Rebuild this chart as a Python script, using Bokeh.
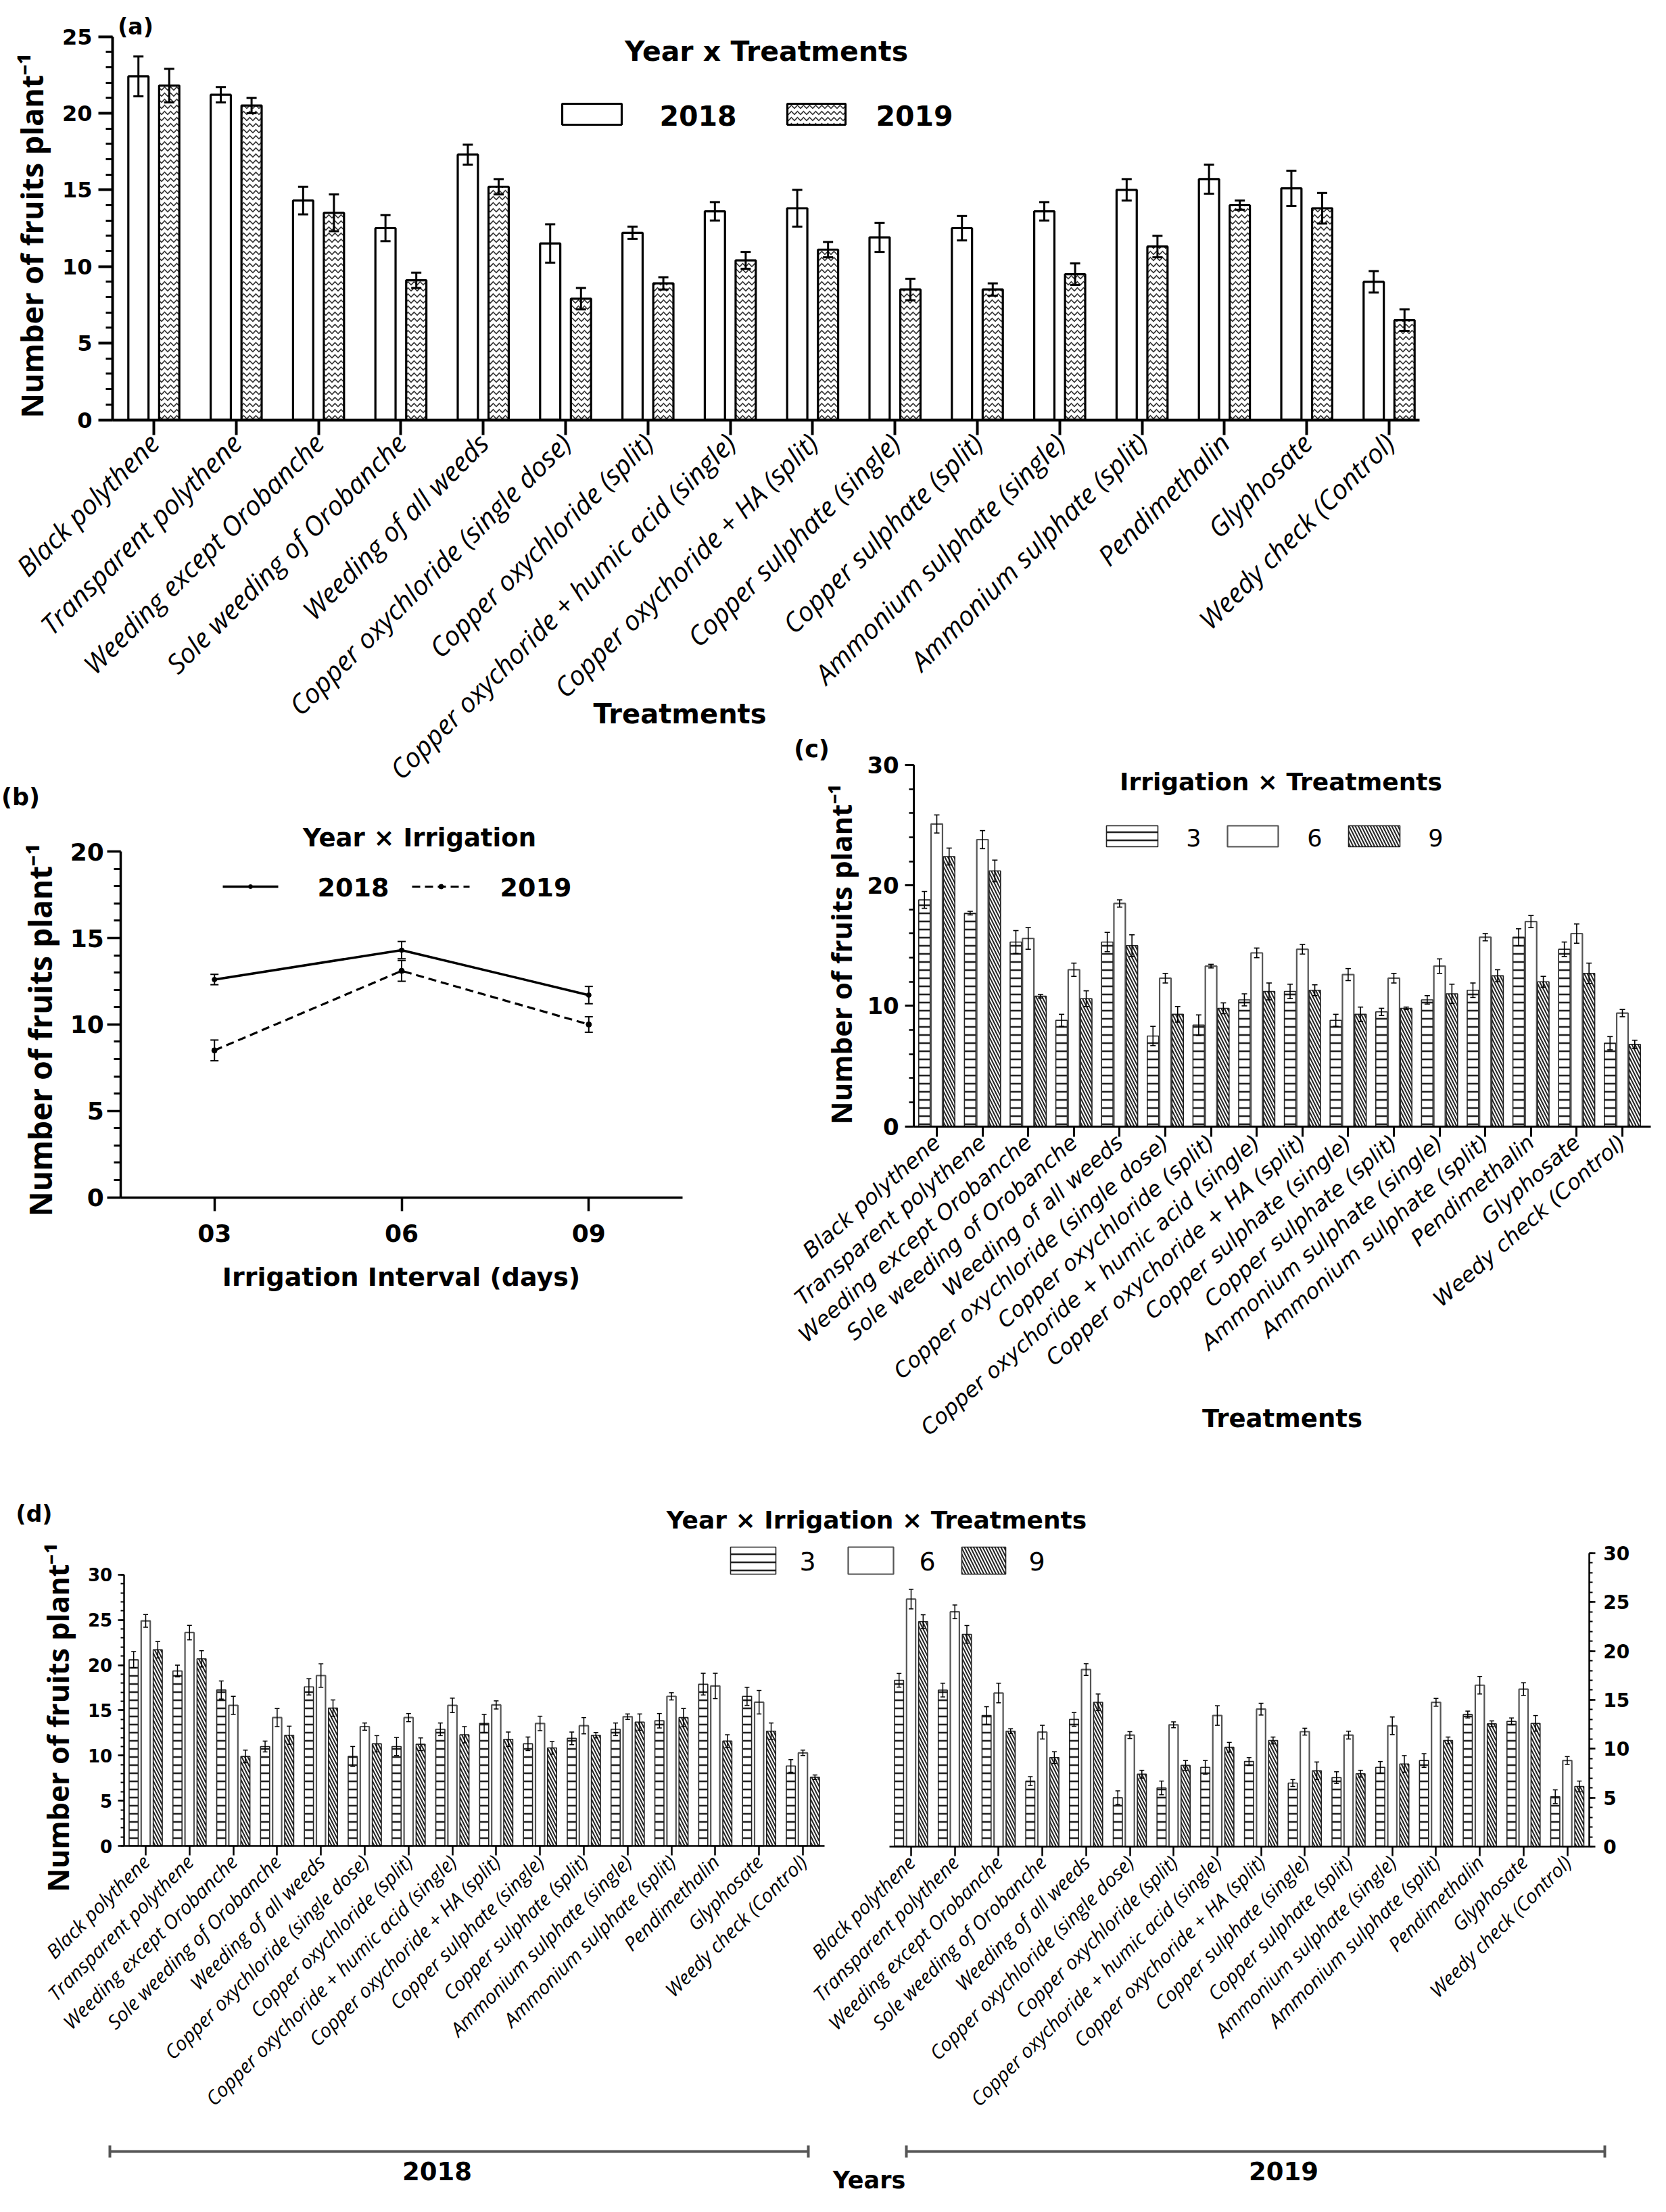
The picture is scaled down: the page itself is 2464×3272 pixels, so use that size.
import numpy as np
from math import pi
from bokeh.plotting import figure
from bokeh.models import (Range1d, LinearAxis, FixedTicker, SingleIntervalTicker,
                          Whisker, ColumnDataSource, TeeHead)
from bokeh.embed import file_html
from bokeh.resources import INLINE
from bokeh.core.properties import value

# ---------------- data ----------------
treatments = ["Black polythene", "Transparent polythene", "Weeding except Orobanche",
              "Sole weeding of Orobanche", "Weeding of all weeds",
              "Copper oxychloride (single dose)", "Copper oxychloride (split)",
              "Copper oxychoride + humic acid (single)", "Copper oxychoride + HA (split)",
              "Copper sulphate (single)", "Copper sulphate (split)",
              "Ammonium sulphate (single)", "Ammonium sulphate (split)",
              "Pendimethalin", "Glyphosate", "Weedy check (Control)"]
years = ["2018", "2019"]
intervals = ["3", "6", "9"]
interval_ticks = ["03", "06", "09"]

# (a) Year x Treatments
a_2018 = [22.4, 21.2, 14.3, 12.5, 17.3, 11.5, 12.2, 13.6, 13.8, 11.9, 12.5, 13.6, 15.0, 15.7, 15.1, 9.0]
a_2018_se = [1.3, 0.5, 0.9, 0.85, 0.65, 1.25, 0.4, 0.6, 1.2, 0.95, 0.8, 0.6, 0.7, 0.95, 1.15, 0.7]
a_2019 = [21.8, 20.5, 13.5, 9.1, 15.2, 7.9, 8.9, 10.4, 11.1, 8.5, 8.5, 9.5, 11.3, 14.0, 13.8, 6.5]
a_2019_se = [1.1, 0.5, 1.2, 0.5, 0.5, 0.7, 0.4, 0.55, 0.5, 0.7, 0.4, 0.7, 0.7, 0.3, 1.0, 0.7]

# (b) Year x Irrigation
b_2018 = [12.6, 14.3, 11.7]
b_2018_se = [0.3, 0.5, 0.5]
b_2019 = [8.5, 13.1, 10.0]
b_2019_se = [0.6, 0.6, 0.45]

# (c) Irrigation x Treatments
c_3 = [18.8, 17.7, 15.3, 8.8, 15.3, 7.5, 8.4, 10.5, 11.2, 8.8, 9.5, 10.5, 11.3, 15.7, 14.7, 6.9]
c_3_se = [0.7, 0.15, 0.95, 0.5, 0.8, 0.8, 0.85, 0.5, 0.6, 0.5, 0.3, 0.35, 0.6, 0.7, 0.6, 0.55]
c_6 = [25.1, 23.8, 15.6, 13.0, 18.5, 12.3, 13.3, 14.4, 14.7, 12.6, 12.3, 13.3, 15.7, 17.0, 16.0, 9.4]
c_6_se = [0.75, 0.75, 0.9, 0.55, 0.3, 0.4, 0.15, 0.4, 0.4, 0.5, 0.4, 0.6, 0.3, 0.5, 0.8, 0.3]
c_9 = [22.4, 21.2, 10.8, 10.6, 15.0, 9.3, 9.8, 11.2, 11.3, 9.3, 9.8, 11.0, 12.5, 12.0, 12.7, 6.8]
c_9_se = [0.7, 0.9, 0.15, 0.65, 0.9, 0.65, 0.45, 0.7, 0.45, 0.6, 0.1, 0.8, 0.5, 0.45, 0.85, 0.35]

# (d) Year x Irrigation x Treatments
d18_3 = [20.6, 19.35, 17.25, 11.0, 17.6, 9.9, 11.0, 12.9, 13.55, 11.3, 11.9, 12.9, 13.85, 17.9, 16.55, 8.85]
d18_3_se = [0.9, 0.65, 1.0, 0.6, 0.9, 1.1, 1.0, 0.7, 1.0, 0.75, 0.7, 0.7, 0.8, 1.2, 1.0, 0.7]
d18_6 = [24.9, 23.6, 15.55, 14.2, 18.85, 13.2, 14.2, 15.55, 15.6, 13.55, 13.3, 14.3, 16.55, 17.7, 15.9, 10.3]
d18_6_se = [0.7, 0.8, 1.0, 1.0, 1.3, 0.4, 0.45, 0.8, 0.45, 0.8, 0.9, 0.3, 0.4, 1.4, 1.3, 0.3]
d18_9 = [21.7, 20.7, 9.9, 12.25, 15.25, 11.3, 11.25, 12.3, 11.8, 10.85, 12.25, 13.7, 14.2, 11.6, 12.7, 7.6]
d18_9_se = [0.9, 0.9, 0.7, 1.0, 0.9, 0.9, 0.7, 0.9, 0.8, 0.7, 0.3, 0.9, 1.0, 0.7, 0.9, 0.25]
d19_3 = [17.0, 16.0, 13.4, 6.7, 13.0, 5.0, 6.0, 8.1, 8.7, 6.5, 7.05, 8.1, 8.8, 13.5, 12.8, 5.1]
d19_3_se = [0.7, 0.7, 0.9, 0.45, 0.7, 0.7, 0.7, 0.7, 0.4, 0.35, 0.6, 0.6, 0.7, 0.35, 0.35, 0.7]
d19_6 = [25.3, 24.0, 15.7, 11.7, 18.1, 11.4, 12.45, 13.4, 14.05, 11.75, 11.4, 12.35, 14.75, 16.5, 16.1, 8.8]
d19_6_se = [1.0, 0.7, 1.0, 0.7, 0.6, 0.35, 0.3, 1.0, 0.6, 0.35, 0.4, 0.9, 0.4, 0.9, 0.65, 0.4]
d19_9 = [23.0, 21.7, 11.8, 9.1, 14.75, 7.4, 8.3, 10.15, 10.85, 7.75, 7.45, 8.45, 10.85, 12.55, 12.6, 6.15]
d19_9_se = [0.7, 0.9, 0.25, 0.6, 0.85, 0.4, 0.5, 0.5, 0.35, 0.9, 0.35, 0.85, 0.35, 0.3, 0.8, 0.55]

# ---------------- canvas ----------------
W, H, M = 2448, 3256, 8
p = figure(width=W, height=H, x_range=Range1d(M, M + W), y_range=Range1d(M + H, M),
           x_axis_type=None, y_axis_type=None, output_backend="svg",
           toolbar_location=None, min_border=0, outline_line_color=None,
           background_fill_color="white", border_fill_color="white")

# panel placement: (page x of first category, px per category, page y of zero, px per unit)
frames = {
    "a": (235.0, 121.8, 628.5, 22.68),
    "b": (324.7, 276.8, 1778.6, 25.57),
    "c": (1393.0, 67.6, 1673.6, 17.82),
    "dl": (223.0, 64.8, 2738.0, 13.37),
    "dr": (1355.0, 64.7, 2739.0, 14.47),
}
xr, yr = {}, {}
for k, (cx, sx, cy, sy) in frames.items():
    xr[k] = Range1d((M - cx) / sx, (M + W - cx) / sx)
    yr[k] = Range1d((cy - (M + H)) / sy, (cy - M) / sy)
p.extra_x_ranges = xr
p.extra_y_ranges = yr

HEAD = "DejaVu Sans"
ITAL = "Open Sans"


def y_axis(panel, side, loc, top, interval, size, style, lw, tick, minor, standoff):
    ax = LinearAxis(x_range_name=panel, y_range_name=panel, fixed_location=loc, bounds=(0, top),
                    ticker=SingleIntervalTicker(interval=interval, num_minor_ticks=5))
    ax.axis_line_width = lw
    ax.major_tick_line_width = lw
    ax.minor_tick_line_width = lw * 0.8
    ax.major_tick_in = 0
    ax.major_tick_out = tick
    ax.minor_tick_in = 0
    ax.minor_tick_out = minor
    ax.major_label_text_font = HEAD
    ax.major_label_text_font_size = f"{size}px"
    ax.major_label_text_font_style = style
    ax.major_label_text_color = "black"
    ax.major_label_standoff = standoff
    p.add_layout(ax, side)


def x_axis(panel, lo, hi, labels, font, size, style, orient, lw, tick, standoff):
    ax = LinearAxis(x_range_name=panel, y_range_name=panel, fixed_location=0, bounds=(lo, hi),
                    ticker=FixedTicker(ticks=list(range(len(labels)))),
                    major_label_overrides={i: lab for i, lab in enumerate(labels)},
                    major_label_orientation=orient)
    ax.axis_line_width = lw
    ax.major_tick_line_width = lw
    ax.major_tick_in = 0
    ax.major_tick_out = tick
    ax.minor_tick_line_color = None
    ax.major_label_text_font = font
    ax.major_label_text_font_size = f"{size}px"
    ax.major_label_text_font_style = style
    ax.major_label_text_color = "black"
    ax.major_label_standoff = standoff
    p.add_layout(ax, "below")


def errbars(panel, xs, vals, errs, head, lw):
    v = np.asarray(vals, float)
    e = np.asarray(errs, float)
    src = ColumnDataSource(dict(x=list(xs), lo=list(v - e), hi=list(v + e)))
    w = Whisker(source=src, base="x", lower="lo", upper="hi", dimension="height",
                x_range_name=panel, y_range_name=panel, line_width=lw, line_color="black",
                upper_head=TeeHead(size=head, line_width=lw, line_color="black"),
                lower_head=TeeHead(size=head, line_width=lw, line_color="black"),
                level="annotation")
    p.add_layout(w)


STYLE = {
    "a18": dict(fill_color="white", line_color="black", line_width=3.2),
    "a19": dict(fill_color="white", line_color="black", line_width=3.2, hatch_pattern="horizontal_wave",
                hatch_scale=9, hatch_weight=1.6, hatch_color="#333333"),
    "i3": dict(fill_color="white", line_color="#222222", line_width=1.6, hatch_pattern="horizontal_line",
               hatch_scale=12, hatch_weight=2.6, hatch_color="#222222"),
    "i6": dict(fill_color="white", line_color="#555555", line_width=2.2),
    "i9": dict(fill_color="white", line_color="#222222", line_width=1.6, hatch_pattern="left_diagonal_line",
               hatch_scale=9, hatch_weight=2.0, hatch_color="#222222"),
}


def bars(panel, xs, vals, width, style):
    return p.vbar(x=list(xs), top=list(vals), bottom=0, width=width,
                  x_range_name=panel, y_range_name=panel, **STYLE[style])


def txt(x, y, s, size, font=HEAD, style="bold", align="center", baseline="middle", angle=0.0):
    p.text(x=[x], y=[y], text=[s], text_font=value(font), text_font_size=f"{size}px",
           text_font_style=style, text_align=align, text_baseline=baseline, angle=angle,
           text_color="black")


def ylabel(xb, yc, size):
    txt(xb, yc, "Number of fruits plant\u207b\u00b9", size, font=ITAL, style="bold", align="center",
        baseline="alphabetic", angle=pi / 2)


def legend_box(x0, x1, y0, y1, style):
    p.quad(left=[x0], right=[x1], top=[y0], bottom=[y1], **STYLE[style])


idx = np.arange(len(treatments))

# ---------------- (a) ----------------
bars("a", idx - 0.187, a_2018, 0.245, "a18")
bars("a", idx + 0.187, a_2019, 0.245, "a19")
errbars("a", idx - 0.187, a_2018, a_2018_se, 15, 3)
errbars("a", idx + 0.187, a_2019, a_2019_se, 15, 3)
y_axis("a", "left", -0.5, 25, 5, 32, "bold", 4, 21, 10, 9)
x_axis("a", -0.5, 15.37, treatments, ITAL, 40, "italic", pi / 4, 4, 22, 5)
txt(208, 47, "(a)", 33)
txt(1141, 83, "Year x Treatments", 41)
legend_box(839, 927, 161, 192, "a18")
legend_box(1172, 1258, 161, 192, "a19")
txt(1040, 178, years[0], 41)
txt(1360, 178, years[1], 41)
txt(1013, 1063, "Treatments", 40)
ylabel(54, 356, 45)

# ---------------- (b) ----------------
bx = np.arange(len(interval_ticks))
p.line(x=list(bx), y=b_2018, x_range_name="b", y_range_name="b", line_color="black", line_width=3.5)
p.scatter(x=list(bx), y=b_2018, x_range_name="b", y_range_name="b", size=7, color="black")
p.line(x=list(bx), y=b_2019, x_range_name="b", y_range_name="b", line_color="black", line_width=3.2,
       line_dash="12 7")
p.scatter(x=list(bx), y=b_2019, x_range_name="b", y_range_name="b", size=8, color="black")
errbars("b", bx, b_2018, b_2018_se, 12, 2)
errbars("b", bx, b_2019, b_2019_se, 12, 2)
y_axis("b", "left", -0.5, 20, 5, 36, "bold", 3.5, 20, 10, 5)
x_axis("b", -0.5, 2.5, interval_ticks, HEAD, 36, "bold", "horizontal", 3.5, 20, 20)
txt(38, 1186, "(b)", 35)
txt(628, 1247, "Year × Irrigation", 37)
p.line(x=[337, 419], y=[1319, 1319], line_color="black", line_width=3.5)
p.scatter(x=[378], y=[1319], size=6, color="black")
p.line(x=[617, 702], y=[1319, 1319], line_color="black", line_width=3.2, line_dash="12 7")
p.scatter(x=[660], y=[1319], size=7, color="black")
txt(530, 1320, years[0], 38)
txt(800, 1320, years[1], 38)
txt(601, 1896, "Irrigation Interval (days)", 38)
ylabel(66, 1531, 46)

# ---------------- (c) ----------------
bars("c", idx - 0.27, c_3, 0.25, "i3")
bars("c", idx, c_6, 0.25, "i6")
bars("c", idx + 0.27, c_9, 0.25, "i9")
errbars("c", idx - 0.27, c_3, c_3_se, 8, 1.6)
errbars("c", idx, c_6, c_6_se, 8, 1.6)
errbars("c", idx + 0.27, c_9, c_9_se, 8, 1.6)
y_axis("c", "left", -0.5, 30, 10, 34, "bold", 3, 13, 7, 9)
x_axis("c", -0.5, 15.62, treatments, HEAD, 32, "italic", 0.72, 3, 15, 4)
txt(1208, 1115, "(c)", 35)
txt(1902, 1164, "Irrigation × Treatments", 36)
legend_box(1644, 1720, 1229, 1260, "i3")
legend_box(1823, 1898, 1229, 1260, "i6")
legend_box(2002, 2078, 1229, 1260, "i9")
txt(1773, 1246, intervals[0], 35, style="normal")
txt(1952, 1246, intervals[1], 35, style="normal")
txt(2131, 1246, intervals[2], 35, style="normal")
txt(1904, 2106, "Treatments", 37)
ylabel(1251, 1419, 42)

# ---------------- (d) ----------------
for panel, v3, e3, v6, e6, v9, e9 in (("dl", d18_3, d18_3_se, d18_6, d18_6_se, d18_9, d18_9_se),
                                        ("dr", d19_3, d19_3_se, d19_6, d19_6_se, d19_9, d19_9_se)):
    bars(panel, idx - 0.275, v3, 0.207, "i3")
    bars(panel, idx, v6, 0.207, "i6")
    bars(panel, idx + 0.275, v9, 0.207, "i9")
    errbars(panel, idx - 0.275, v3, e3, 7, 1.5)
    errbars(panel, idx, v6, e6, 7, 1.5)
    errbars(panel, idx + 0.275, v9, e9, 7, 1.5)
    x_axis(panel, -0.5, 15.5, treatments, ITAL, 29, "italic", pi / 4, 2.5, 14, 4)
y_axis("dl", "left", -0.5, 30, 5, 26, "bold", 2.5, 9, 5, 8)
y_axis("dr", "right", 15.5, 30, 5, 28, "bold", 2.5, 9, 5, 12)
txt(58, 2247, "(d)", 33)
txt(1304, 2256, "Year × Irrigation × Treatments", 36)
legend_box(1088, 1155, 2296, 2336, "i3")
legend_box(1262, 1329, 2296, 2336, "i6")
legend_box(1430, 1495, 2296, 2336, "i9")
txt(1202, 2317, intervals[0], 38, style="normal")
txt(1379, 2317, intervals[1], 38, style="normal")
txt(1541, 2317, intervals[2], 38, style="normal")
ylabel(93, 2548, 43)

# year brackets
for x0, x1 in ((170, 1203), (1348, 2381)):
    p.segment(x0=[x0, x0, x1], y0=[3190, 3181, 3181], x1=[x1, x0, x1], y1=[3190, 3199, 3199],
              line_color="#555555", line_width=4)
txt(654, 3219, years[0], 37)
txt(1906, 3219, years[1], 37)
txt(1293, 3232, "Years", 35)

open("out.html", "w").write(file_html(p, INLINE))
